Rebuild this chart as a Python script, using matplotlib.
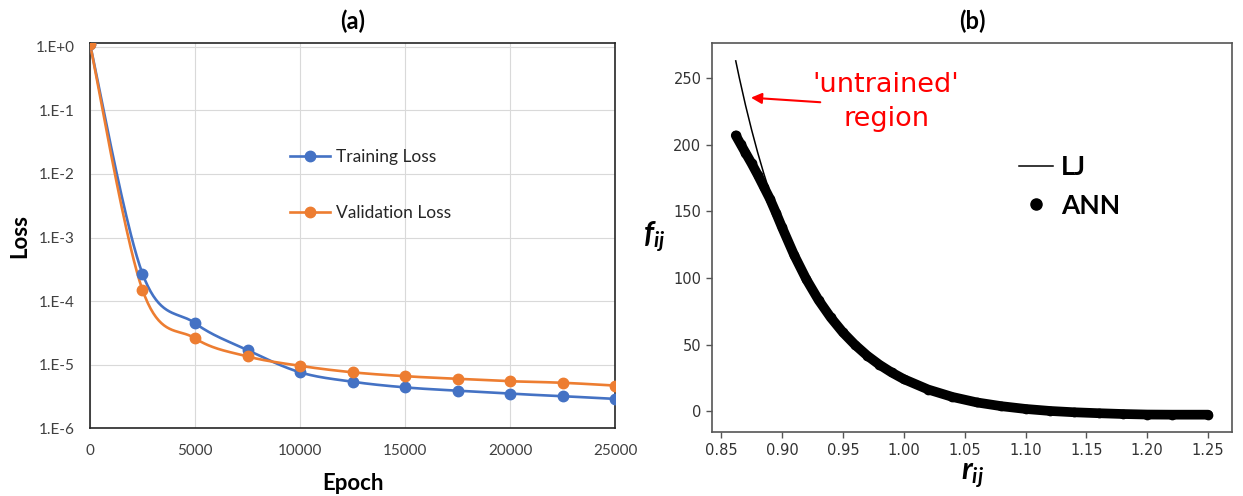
import numpy as np
import matplotlib
matplotlib.use("Agg")
import matplotlib.pyplot as plt
from matplotlib.lines import Line2D

plt.rcParams['mathtext.fontset'] = 'custom'
plt.rcParams['mathtext.it'] = 'Lato:italic:bold'
plt.rcParams['mathtext.rm'] = 'Lato:bold'

# (a) loss history
epochs = [0, 2500, 5000, 7500, 10000, 12500, 15000, 17500, 20000, 22500, 25000]
train_loss = [1.1, 2.7e-4, 4.5e-5, 1.7e-5, 7.6e-6, 5.4e-6, 4.4e-6, 3.9e-6, 3.5e-6, 3.2e-6, 2.9e-6]
val_loss = [1.1, 1.5e-4, 2.6e-5, 1.35e-5, 9.6e-6, 7.6e-6, 6.6e-6, 6.0e-6, 5.5e-6, 5.2e-6, 4.7e-6]
loss_ticks = [1e0, 1e-1, 1e-2, 1e-3, 1e-4, 1e-5, 1e-6]
loss_labels = ['1.E+0', '1.E-1', '1.E-2', '1.E-3', '1.E-4', '1.E-5', '1.E-6']

# (b) pair force vs distance
r_lj = [0.862, 0.865, 0.87, 0.875, 0.88, 0.885, 0.89, 0.895, 0.90, 0.91, 0.92, 0.93,
        0.94, 0.95, 0.96, 0.97, 0.98, 0.99, 1.00, 1.02, 1.04, 1.06, 1.08, 1.10, 1.12,
        1.14, 1.16, 1.18, 1.20, 1.22, 1.25]
f_lj = [263.0, 250.0, 229.8, 211.3, 194.2, 178.5, 164.1, 150.9, 138.7, 117.1, 98.9, 83.4,
        70.3, 59.1, 49.7, 41.6, 34.8, 29.0, 24.0, 16.2, 10.6, 6.5, 3.7, 1.6, 0.1,
        -0.9, -1.5, -2.0, -2.2, -2.4, -2.4]
r_ann = [0.862, 0.866, 0.87, 0.875, 0.88, 0.885, 0.89, 0.895, 0.90, 0.91, 0.92, 0.93,
         0.94, 0.95, 0.96, 0.97, 0.98, 0.99, 1.00, 1.02, 1.04, 1.06, 1.08, 1.10, 1.12,
         1.14, 1.16, 1.18, 1.20, 1.22, 1.25]
f_ann = [207.0, 200.5, 194.0, 186.0, 177.5, 168.5, 159.5, 149.0, 138.0, 117.1, 98.9, 83.4,
         70.3, 59.1, 49.7, 41.6, 34.8, 29.0, 24.0, 16.2, 10.6, 6.5, 3.7, 1.6, 0.1,
         -0.9, -1.6, -2.2, -2.6, -2.7, -2.7]


def smooth(x, y, n=40):
    # Catmull-Rom curve through the points, like Excel's smoothed line
    pts = np.column_stack([x, y]).astype(float)
    pad = np.vstack([pts[0], pts, pts[-1]])
    t = np.linspace(0, 1, n)[:, None]
    seg = []
    for i in range(len(pts) - 1):
        p0, p1, p2, p3 = pad[i:i + 4]
        seg.append(0.5 * (2 * p1 + (p2 - p0) * t
                          + (2 * p0 - 5 * p1 + 4 * p2 - p3) * t ** 2
                          + (3 * p1 - p0 - 3 * p2 + p3) * t ** 3))
    c = np.vstack(seg)
    return c[:, 0], c[:, 1]


fig = plt.figure(figsize=(12.43, 4.96), dpi=100)
ax1 = fig.add_axes([0.0724, 0.1365, 0.4224, 0.7774])
ax2 = fig.add_axes([0.5732, 0.1296, 0.4179, 0.7831])

blue = '#4472C4'
orange = '#ED7D31'
for yv, col in [(train_loss, blue), (val_loss, orange)]:
    sx, sy = smooth(epochs, np.log10(yv))
    ax1.plot(sx, 10 ** sy, color=col, lw=1.9, zorder=3)
    ax1.plot(epochs, yv, 'o', color=col, ms=7.5, zorder=4)
ax1.set_yscale('log')
ax1.set_xlim(0, 25000)
ax1.set_ylim(1e-6, 1.16)
ax1.set_yticks(loss_ticks)
ax1.set_yticklabels(loss_labels)
ax1.minorticks_off()
ax1.set_xticks(range(0, 25001, 5000))
ax1.grid(True, color='#D9D9D9', lw=0.8)
ax1.set_axisbelow(True)
ax1.tick_params(length=0, pad=11, labelsize=11, labelcolor='#404040')
for lab in ax1.get_xticklabels() + ax1.get_yticklabels():
    lab.set_family('Lato')
for sp in ax1.spines.values():
    sp.set_color('#262626')
    sp.set_linewidth(1.2)
ax1.set_xlabel('Epoch', family='Lato', weight='bold', fontsize=16, labelpad=11)
ax1.set_ylabel('Loss', family='Lato', weight='bold', fontsize=16, labelpad=4)
ax1.set_title('(a)', family='Lato', weight='bold', fontsize=17, pad=10)
hs = [Line2D([], [], color=blue, lw=1.9, marker='o', ms=7.5),
      Line2D([], [], color=orange, lw=1.9, marker='o', ms=7.5)]
ax1.legend(hs, ['Training Loss', 'Validation Loss'], loc='upper left',
           bbox_to_anchor=(0.381, 0.725), frameon=False, borderpad=0, borderaxespad=0,
           handlelength=2.3, handletextpad=0.35, labelspacing=2.3,
           prop={'family': 'Lato', 'size': 12.5}, labelcolor='#262626')

ax2.plot(r_lj, f_lj, color='black', lw=1.1, zorder=2)
ax2.plot(r_ann, f_ann, color='black', lw=7, marker='o', ms=7, mew=0,
         solid_capstyle='round', solid_joinstyle='round', zorder=3)
ax2.set_xlim(0.8429, 1.2695)
ax2.set_ylim(-15.5, 276.2)
ax2.set_xticks(np.arange(0.85, 1.2501, 0.05))
ax2.set_yticks([0, 50, 100, 150, 200, 250])
ax2.tick_params(length=4, width=1, color='#555555', labelsize=10.5, labelcolor='#333333', pad=4)
for lab in ax2.get_xticklabels() + ax2.get_yticklabels():
    lab.set_family('DejaVu Sans')
for sp in ax2.spines.values():
    sp.set_color('#555555')
    sp.set_linewidth(1.2)
ax2.set_xlabel('$r_{ij}$', fontsize=22, labelpad=2)
ax2.set_ylabel('$f_{ij}$', fontsize=22, rotation=0, labelpad=14, va='center')
ax2.set_title('(b)', family='Lato', weight='bold', fontsize=17, pad=10)
ax2.annotate('', xy=(0.8722, 235.5), xytext=(0.9337, 231.8),
             arrowprops=dict(arrowstyle='-|>', color='red', lw=1.5, mutation_scale=16))
ax2.text(0.9855, 232, "'untrained'\nregion", color='red', fontsize=19.5,
         ha='center', va='center', linespacing=1.4)
hb = [Line2D([], [], color='black', lw=1.1),
      Line2D([], [], color='black', ls='none', marker='o', ms=8)]
ax2.legend(hb, ['LJ', 'ANN'], loc='upper left', bbox_to_anchor=(0.59, 0.712),
           frameon=False, borderpad=0, borderaxespad=0, handlelength=1.3,
           handletextpad=0.3, labelspacing=0.55,
           prop={'family': 'Lato', 'weight': 'bold', 'size': 19})

fig.savefig('out.png', dpi=100)
